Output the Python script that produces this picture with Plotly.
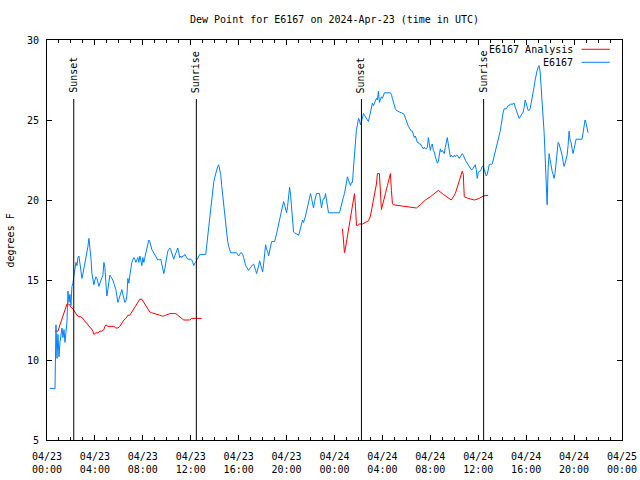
import pandas as pd
import plotly.graph_objects as go

START = pd.Timestamp("2024-04-23 00:00")
END = pd.Timestamp("2024-04-25 00:00")

# Observed dew point (E6167): minutes after 2024-04-23 00:00 UTC, degrees F
obs_minutes = [
    15, 40, 45, 50, 55, 60, 65, 70, 75, 80, 85, 90, 95, 100, 105, 110, 115, 120, 125, 130,
    135, 140, 145, 150, 155, 160, 165, 170, 175, 180, 185, 190, 195, 200, 205, 210, 215, 220, 225, 230,
    235, 240, 245, 250, 255, 260, 265, 270, 275, 280, 285, 290, 295, 300, 305, 310, 315, 320, 325, 330,
    335, 340, 345, 350, 355, 360, 365, 370, 375, 380, 385, 390, 395, 400, 405, 410, 415, 420, 425, 430,
    435, 440, 445, 450, 455, 460, 465, 470, 475, 480, 485, 490, 495, 500, 505, 510, 515, 520, 525, 530,
    535, 540, 545, 550, 555, 560, 565, 570, 575, 580, 585, 590, 595, 600, 605, 610, 615, 620, 625, 630,
    635, 640, 645, 650, 655, 660, 665, 670, 675, 680, 685, 690, 695, 700, 705, 720, 725, 730, 735, 740,
    745, 750, 755, 760, 765, 795, 800, 805, 810, 815, 820, 825, 830, 835, 840, 845, 850, 855, 860, 865,
    870, 875, 880, 885, 890, 895, 900, 905, 910, 915, 920, 950, 955, 960, 965, 970, 975, 980, 985, 990,
    995, 1000, 1005, 1010, 1015, 1020, 1025, 1030, 1035, 1040, 1045, 1050, 1055, 1060, 1065, 1070, 1075, 1080, 1085, 1090,
    1095, 1100, 1105, 1110, 1115, 1120, 1125, 1140, 1145, 1150, 1155, 1160, 1165, 1170, 1175, 1180, 1185, 1190, 1195, 1200,
    1205, 1210, 1215, 1220, 1225, 1230, 1235, 1240, 1245, 1250, 1255, 1260, 1265, 1270, 1275, 1280, 1285, 1290, 1295, 1300,
    1305, 1310, 1315, 1320, 1325, 1330, 1335, 1340, 1345, 1350, 1365, 1370, 1375, 1380, 1385, 1390, 1395, 1400, 1405, 1410,
    1465, 1470, 1475, 1480, 1485, 1490, 1495, 1500, 1505, 1510, 1515, 1520, 1525, 1530, 1535, 1540, 1545, 1550, 1555, 1560,
    1565, 1570, 1575, 1580, 1585, 1590, 1595, 1600, 1605, 1610, 1615, 1620, 1625, 1630, 1635, 1640, 1645, 1650, 1655, 1660,
    1665, 1670, 1675, 1680, 1685, 1690, 1720, 1725, 1730, 1735, 1740, 1745, 1750, 1755, 1765, 1775, 1785, 1790, 1795, 1800,
    1805, 1810, 1815, 1820, 1825, 1830, 1835, 1840, 1845, 1850, 1855, 1860, 1865, 1870, 1875, 1880, 1885, 1890, 1895, 1900,
    1905, 1910, 1915, 1920, 1925, 1930, 1935, 1940, 1945, 1950, 1955, 1960, 1965, 1970, 1975, 1980, 1985, 1990, 1995, 2000,
    2005, 2010, 2015, 2020, 2025, 2030, 2035, 2040, 2045, 2050, 2055, 2060, 2065, 2070, 2075, 2080, 2085, 2090, 2095, 2100,
    2105, 2110, 2115, 2120, 2125, 2130, 2135, 2140, 2145, 2150, 2155, 2160, 2165, 2170, 2175, 2180, 2185, 2190, 2195, 2200,
    2205, 2210, 2215, 2220, 2225, 2230, 2235, 2240, 2245, 2250, 2255, 2260, 2265, 2270, 2275, 2280, 2285, 2290, 2300, 2305,
    2310, 2315, 2320, 2325, 2330, 2335, 2340, 2345, 2350, 2355, 2360, 2365, 2370, 2375, 2380, 2385, 2390, 2395, 2400, 2405,
    2410, 2415, 2420, 2425, 2430, 2435, 2440, 2445, 2450, 2455, 2460, 2465, 2470, 2475, 2480, 2485, 2490, 2495, 2500, 2505,
    2510, 2515, 2520, 2525, 2530, 2535, 2540, 2545, 2550, 2555, 2560, 2565, 2570, 2575, 2580, 2585, 2590, 2595, 2600, 2605,
    2610, 2615, 2620, 2625, 2630, 2635, 2640, 2645, 2650, 2680, 2685, 2690, 2695, 2700, 2705, 2710,
]
obs_values = [
    8.23, 8.2, 12.2, 10.1, 11.6, 10.2, 11.1, 11.6, 12.0, 11.4, 11.9, 11.1, 12.0, 12.4, 14.3, 13.6, 14.1, 13.4, 14.6, 14.8,
    15.3, 15.8, 16.1, 15.9, 16.4, 16.5, 16.1, 15.6, 15.1, 15.4, 15.7, 16.0, 16.4, 16.6, 17.1, 17.6, 17.1, 16.4, 15.4, 14.9,
    14.7, 15.0, 15.2, 15.1, 14.8, 14.6, 14.8, 15.0, 15.1, 15.3, 16.1, 15.8, 14.8, 14.0, 14.4, 15.0, 15.3, 15.2, 15.1, 15.0,
    14.8, 14.6, 14.4, 14.0, 13.6, 13.8, 14.0, 14.3, 14.4, 14.1, 13.9, 13.6, 13.7, 14.0, 15.1, 14.8, 15.3, 15.9, 16.1, 16.25,
    16.4, 16.3, 16.1, 16.25, 16.4, 16.1, 16.5, 16.25, 15.9, 16.4, 16.1, 16.4, 16.7, 16.9, 17.2, 17.5, 17.4, 17.0, 16.9, 16.8,
    16.7, 16.6, 16.5, 16.4, 16.25, 16.3, 16.25, 16.3, 16.05, 15.8, 15.4, 15.7, 16.05, 16.5, 16.8, 16.9, 17.0, 16.9, 16.7, 16.5,
    16.3, 16.5, 16.7, 16.8, 17.0, 16.7, 16.4, 16.5, 16.4, 16.5, 16.5, 16.6, 16.5, 16.4, 16.3, 16.3, 16.25, 16.1, 15.9, 16.05,
    16.1, 16.25, 16.4, 16.5, 16.6, 16.6, 17.2, 17.8, 18.4, 19.1, 19.7, 20.2, 20.7, 21.1, 21.4, 21.7, 21.9, 22.1, 22.2, 21.9,
    21.6, 20.9, 20.3, 19.7, 19.0, 18.3, 17.8, 17.4, 17.1, 16.8, 16.7, 16.7, 16.6, 16.5, 16.6, 16.7, 16.7, 16.6, 16.4, 16.1,
    15.9, 15.8, 15.7, 15.6, 15.7, 15.8, 15.9, 15.95, 16.0, 15.7, 15.6, 15.4, 15.6, 15.9, 16.2, 16.0, 15.7, 15.5, 16.0, 16.7,
    17.2, 16.9, 16.8, 16.5, 16.9, 17.3, 17.4, 17.4, 17.6, 17.9, 18.2, 18.5, 18.9, 19.1, 19.4, 19.7, 19.9, 19.7, 19.4, 19.2,
    19.6, 20.1, 20.8, 20.3, 19.3, 18.3, 18.0, 17.95, 17.9, 17.85, 17.8, 17.8, 18.0, 18.3, 18.6, 18.75, 18.6, 18.75, 19.0, 19.3,
    19.6, 19.9, 20.2, 20.4, 20.1, 19.8, 19.5, 19.9, 20.2, 20.4, 20.4, 20.0, 19.5, 19.9, 20.1, 20.1, 20.4, 20.0, 19.4, 19.2,
    19.2, 19.5, 19.8, 20.1, 20.2, 20.4, 20.7, 21.0, 21.45, 21.25, 21.0, 20.9, 21.1, 21.1, 22.0, 23.0, 24.1, 24.4, 24.7, 25.1,
    25.0, 24.7, 24.9, 25.3, 25.4, 25.3, 25.2, 25.1, 25.0, 24.9, 25.2, 25.5, 25.8, 26.05, 25.9, 26.1, 26.25, 26.35, 26.25, 26.8,
    26.1, 26.25, 26.45, 26.35, 26.6, 26.7, 26.7, 26.6, 26.35, 26.1, 25.9, 25.7, 25.6, 25.55, 25.5, 25.45, 25.4, 25.3, 25.1, 24.9,
    24.7, 24.6, 24.5, 24.4, 24.3, 24.3, 24.1, 23.9, 24.0, 23.75, 23.6, 23.6, 23.5, 23.5, 23.4, 23.3, 23.2, 23.3, 23.2, 23.2,
    23.3, 23.9, 23.4, 23.1, 23.4, 23.5, 23.1, 23.0, 22.7, 22.5, 22.3, 22.4, 22.7, 23.2, 23.0, 23.1, 23.0, 22.9, 23.3, 23.6,
    23.9, 23.5, 23.0, 22.7, 22.8, 22.7, 22.7, 22.8, 22.7, 22.8, 22.8, 22.7, 22.6, 22.7, 22.8, 22.9, 22.8, 22.6, 22.5, 22.4,
    22.3, 22.2, 22.05, 22.0, 21.9, 21.9, 22.0, 22.1, 22.2, 21.9, 21.35, 21.7, 21.8, 21.8, 21.9, 22.1, 22.1, 21.9, 21.7, 21.5,
    21.6, 21.9, 22.2, 22.25, 22.2, 22.25, 22.5, 22.7, 22.9, 23.2, 23.5, 23.75, 24.0, 24.3, 24.7, 25.2, 25.5, 25.7, 25.7, 25.8,
    25.9, 25.9, 26.0, 26.0, 25.95, 26.05, 26.05, 25.8, 25.6, 25.4, 25.2, 25.1, 25.2, 25.3, 25.4, 25.5, 25.8, 26.25, 26.05, 25.7,
    25.6, 25.6, 25.7, 26.05, 26.35, 26.7, 27.1, 27.5, 27.9, 28.1, 28.3, 28.4, 28.0, 27.2, 26.05, 25.2, 24.2, 22.7, 21.0, 19.7,
    22.0, 22.9, 22.5, 22.1, 21.8, 21.6, 21.35, 21.7, 22.3, 22.9, 23.6, 23.5, 23.3, 23.1, 22.8, 22.4, 22.1, 22.3, 22.5, 22.8,
    23.4, 24.3, 23.75, 23.6, 23.2, 22.9, 23.2, 23.6, 23.8, 23.8, 24.2, 24.6, 25.0, 24.8, 24.5, 24.2,
]

# Analysis dew point (E6167 Analysis); None marks the gap between the two runs
ana_minutes = [
    40, 55, 65, 75, 85, 95, 100, 110, 120, 130, 140, 150, 160, 170, 180, 190, 200, 210, 220, 230,
    235, 245, 255, 265, 275, 285, 290, 295, 305, 335, 345, 355, 365, 375, 385, 395, 405, 415, 425, 435,
    445, 455, 465, 475, 485, 495, 505, 515, 525, 535, 545, 555, 565, 575, 585, 595, 605, 615, 635, 645,
    655, 665, 675, 685, 715, 725, 775, 1000,
    1480, 1485, 1490, 1495, 1500, 1505, 1510, 1515, 1520, 1525, 1530, 1535, 1540, 1545, 1550, 1555, 1565, 1580, 1595, 1610,
    1620, 1630, 1640, 1650, 1655, 1665, 1675, 1685, 1695, 1705, 1715, 1720, 1725, 1730, 1735, 1770, 1820, 1850, 1870, 1895,
    1920, 1960, 1985, 2005, 2025, 2045, 2060, 2080, 2085, 2090, 2110, 2140, 2165, 2185, 2210,
]
ana_values = [
    11.8, 11.8, 12.2, 12.6, 13.0, 13.4, 13.5, 13.5, 13.3, 13.2, 13.0, 12.8, 12.7, 12.7, 12.6, 12.4, 12.3, 12.1, 12.0, 11.8,
    11.6, 11.7, 11.7, 11.8, 11.8, 11.9, 12.1, 12.2, 12.1, 12.1, 12.0, 12.0, 12.1, 12.3, 12.5, 12.6, 12.8, 12.8, 13.0, 13.2,
    13.4, 13.65, 13.8, 13.8, 13.6, 13.4, 13.2, 13.0, 12.95, 12.9, 12.9, 12.85, 12.8, 12.75, 12.75, 12.8, 12.85, 12.9, 12.9, 12.9,
    12.8, 12.7, 12.6, 12.5, 12.5, 12.6, 12.6, None,
    18.2, 17.3, 16.7, 17.0, 17.4, 17.7, 18.1, 18.6, 19.1, 19.5, 19.9, 20.2, 20.4, 19.6, 18.4, 18.4, 18.5, 18.5, 18.6, 18.7,
    19.0, 19.7, 20.4, 21.0, 21.65, 21.65, 19.4, 20.0, 20.4, 20.9, 21.4, 21.65, 20.6, 19.8, 19.7, 19.65, 19.55, 19.5, 19.7, 20.0,
    20.2, 20.6, 20.35, 20.15, 20.0, 20.4, 21.0, 21.8, 21.6, 20.2, 20.1, 20.0, 20.1, 20.25, 20.3,
]

event_names = ["Sunset", "Sunrise", "Sunset", "Sunrise"]
event_times = ["2024-04-23 02:14", "2024-04-23 12:28", "2024-04-24 02:15", "2024-04-24 12:27"]

series_names = ["E6167 Analysis", "E6167"]
series_colors = ["#ff0000", "#0080ff"]

y_ticks = [5, 10, 15, 20, 25, 30]

FONT = "DejaVu Sans Mono"

obs_t = [START + pd.Timedelta(minutes=m) for m in obs_minutes]
ana_t = [START + pd.Timedelta(minutes=m) for m in ana_minutes]

fig = go.Figure()
fig.add_trace(go.Scatter(x=ana_t, y=ana_values, mode="lines", name=series_names[0],
                         line=dict(color=series_colors[0], width=1), connectgaps=False,
                         showlegend=False))
fig.add_trace(go.Scatter(x=obs_t, y=obs_values, mode="lines", name=series_names[1],
                         line=dict(color=series_colors[1], width=1), showlegend=False))

# sunrise / sunset markers
for name, t in zip(event_names, event_times):
    fig.add_shape(type="line", xref="x", yref="paper", x0=t, x1=t, y0=0, y1=0.8525,
                  line=dict(color="black", width=1))
    fig.add_annotation(x=t, xref="x", yref="paper", y=0.8625, text=name, textangle=-90,
                       showarrow=False, xanchor="center", yanchor="bottom",
                       font=dict(family=FONT, size=10, color="black"))

# legend (gnuplot style: text right-aligned, sample line to the right)
leg_y = [0.9768, 0.9443]
for name, color, yy in zip(series_names, series_colors, leg_y):
    fig.add_annotation(x=0.9174, y=yy, xref="paper", yref="paper", text=name,
                       showarrow=False, xanchor="right", yanchor="middle",
                       font=dict(family=FONT, size=10, color="black"))
    fig.add_shape(type="line", xref="paper", yref="paper", x0=0.9296, x1=0.9788,
                  y0=yy, y1=yy, line=dict(color=color, width=1))

# y axis title
fig.add_annotation(x=-0.0635, y=0.5, xref="paper", yref="paper", text="degrees F",
                   textangle=-90, showarrow=False, xanchor="center", yanchor="middle",
                   font=dict(family=FONT, size=10, color="black"))

fig.update_layout(
    width=640, height=480,
    margin=dict(l=47, r=18, t=40, b=40, autoexpand=False),
    paper_bgcolor="white", plot_bgcolor="white",
    font=dict(family=FONT, size=10, color="black"),
    title=dict(text="Dew Point for E6167 on 2024-Apr-23 (time in UTC)", x=0.5, xref="paper",
               y=1 - 19 / 480, yref="container", xanchor="center", yanchor="middle",
               font=dict(family=FONT, size=10, color="black")),
    showlegend=False,
)
fig.update_xaxes(
    type="date", range=[START, END], tick0=START, dtick=4 * 3600 * 1000,
    tickformat="%m/%d<br>%H:%M", ticks="inside", ticklen=5, tickcolor="black", tickwidth=1,
    showline=True, linecolor="black", linewidth=1, mirror="allticks",
    showgrid=False, zeroline=False, automargin=False, ticklabelstandoff=7,
    minor=dict(dtick=3600 * 1000, ticks="inside", ticklen=3, tickcolor="black", showgrid=False),
    tickfont=dict(family=FONT, size=10, color="black"),
)
fig.update_yaxes(
    range=[5, 30], tickvals=y_ticks, ticks="inside", ticklen=5, tickcolor="black", tickwidth=1,
    showline=True, linecolor="black", linewidth=1, mirror="allticks",
    showgrid=False, zeroline=False, automargin=False, ticklabelstandoff=5,
    tickfont=dict(family=FONT, size=10, color="black"),
)

fig.write_html("out.html", config={"displayModeBar": False, "staticPlot": False},
               post_script="document.body.style.margin='0';")
